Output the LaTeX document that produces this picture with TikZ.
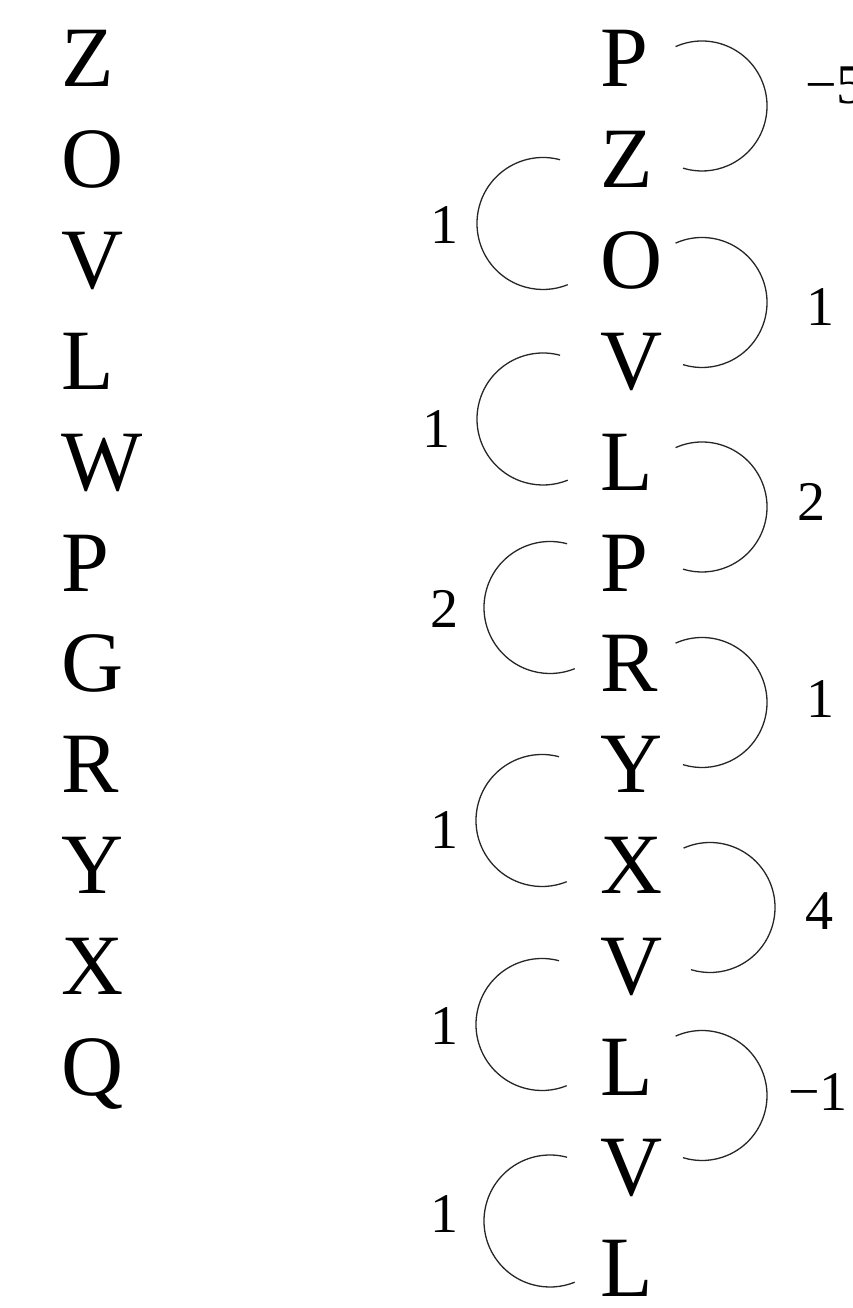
\documentclass[tikz,border=0pt]{standalone}
\usepackage{fontspec}
\setmainfont{Liberation Serif}
\newfontfamily\tnr{Liberation Serif}
\begin{document}
\begin{tikzpicture}[x=1pt,y=-1pt,
  letter/.style={inner sep=0pt,outer sep=0pt,anchor=base west,
    font=\tnr\fontsize{86}{100}\selectfont},
  num/.style={inner sep=0pt,outer sep=0pt,anchor=base,
    font=\tnr\fontsize{56}{64}\selectfont},
  numw/.style={num,anchor=base west},
  link/.style={draw=black!85,line width=1.3pt}]
\fill[white] (0,0) rectangle (853,1308);
\useasboundingbox (0,0) rectangle (853,1308);

% left column of letters
\foreach \t [count=\i from 0] in {Z,O,V,L,W,P,G,R,Y,X,Q}
  \node[letter] (a\i) at (61,{87+100.8*\i}) {\t};

% right column of letters
\foreach \t [count=\i from 0] in {P,Z,O,V,L,P,R,Y,X,V,L,V,L}
  \node[letter] (b\i) at (600,{87+100.8*\i}) {\t};

% centres of the right-hand arcs (joining b0-b1, b2-b3, ...)
\coordinate (r1) at (702,106);
\coordinate (r2) at (702,302.5);
\coordinate (r3) at (702,507);
\coordinate (r4) at (702,702.5);
\coordinate (r5) at (710,907.5);
\coordinate (r6) at (702,1095.5);
\foreach \c in {r1,r2,r3,r4,r5,r6}
  \draw[link] (\c) ++(-114:65) arc[start angle=-114,end angle=107,radius=65];

% centres of the left-hand arcs (joining b1-b2, b3-b4, ...)
\coordinate (s1) at (543,223.5);
\coordinate (s2) at (543,419);
\coordinate (s3) at (550,607.5);
\coordinate (s4) at (542,820.5);
\coordinate (s5) at (542,1024.5);
\coordinate (s6) at (550,1221);
\foreach \c in {s1,s2,s3,s4,s5,s6}
  \draw[link] (\c) ++(-75:66) arc[start angle=-75,end angle=-292,radius=66];

% arc weights, right side
\node[numw] (w1) at (805,104) {−5};
\node[num]  (w2) at (820,325) {1};
\node[num]  (w3) at (811.5,520) {2};
\node[num]  (w4) at (820,717) {1};
\node[num]  (w5) at (819.5,929) {4};
\node[numw] (w6) at (788,1110) {−1};

% arc weights, left side
\node[num] (v1) at (444,243) {1};
\node[num] (v2) at (436,447) {1};
\node[num] (v3) at (444.5,627) {2};
\node[num] (v4) at (444,848) {1};
\node[num] (v5) at (444,1044) {1};
\node[num] (v6) at (444,1232) {1};
\end{tikzpicture}
\end{document}
